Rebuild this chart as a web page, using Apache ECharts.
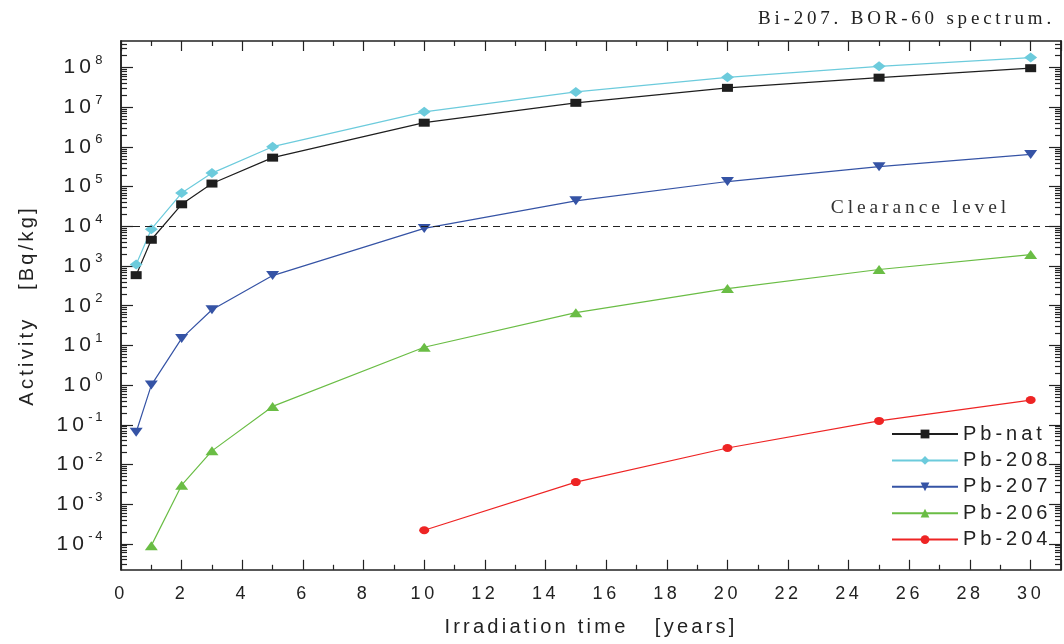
<!DOCTYPE html>
<html><head><meta charset="utf-8">
<script src="https://cdn.jsdelivr.net/npm/echarts@6/dist/echarts.min.js"></script>
<style>html,body{margin:0;padding:0;background:#fff}#c{width:1064px;height:644px}</style>
</head><body><div id="c"></div>
<script>
// wide letter spacing like the reference typography (axis names use 20.1px -> a bit tighter)
(function(){
  var P = CanvasRenderingContext2D.prototype;
  var d = Object.getOwnPropertyDescriptor(P,'font');
  if (d && d.set && ('letterSpacing' in P)) {
    Object.defineProperty(P,'font',{configurable:true,
      get:function(){return d.get.call(this);},
      set:function(v){d.set.call(this,v);var m=/(\d+(?:\.\d+)?)px/.exec(v);
        var s = m ? parseFloat(m[1]) : 0;
        var ls = (Math.abs(s-20.1) < 0.01) ? 3.2 : s*0.2;
        this.letterSpacing=ls.toFixed(1)+'px';}});
  }
})();

const years = [0.5, 1, 2, 3, 5, 10, 15, 20, 25, 30];
const pbNat = [590, 4.6e3, 3.6e4, 1.2e5, 5.4e5, 4.1e6, 1.3e7, 3.1e7, 5.6e7, 9.7e7];
const pb208 = [1.1e3, 8.5e3, 6.9e4, 2.2e5, 1.02e6, 7.7e6, 2.45e7, 5.7e7, 1.08e8, 1.8e8];
const pb207 = [0.065, 1.0, 15, 79, 576, 8.9e3, 4.4e4, 1.35e5, 3.2e5, 6.5e5];
const years206 = [1, 2, 3, 5, 10, 15, 20, 25, 30];
const pb206 = [9e-5, 3.0e-3, 0.022, 0.29, 9.0, 67, 270, 820, 1950];
const years204 = [10, 15, 20, 25, 30];
const pb204 = [2.2e-4, 3.6e-3, 0.026, 0.125, 0.42];
const clearance = 1e4;
const seriesNames = ['Pb-nat', 'Pb-208', 'Pb-207', 'Pb-206', 'Pb-204'];
const yMajorTicks = [1e-4, 1e-3, 1e-2, 1e-1, 1e0, 1e1, 1e2, 1e3, 1e4, 1e5, 1e6, 1e7, 1e8];
const titleText = 'Bi-207. BOR-60 spectrum.';
const xName = 'Irradiation time   [years]';
const yName = 'Activity   [Bq/kg]';
const clearanceText = 'Clearance level';

const yMin = Math.pow(10, -4.655), yMax = Math.pow(10, 8.672);
const yMinorTicks = [];
for (let e = -5; e <= 8; e++) for (let k = 2; k <= 9; k++) {
  const v = k * Math.pow(10, e);
  if (v > yMin && v < yMax) yMinorTicks.push(v);
}
const pair = (xs, ys) => xs.map((x, i) => [x, ys[i]]);
const ink = '#222';
const sans = 'Liberation Sans';
const serif = 'Liberation Serif';

function yAx(pos, labels, ticks, len) {
  return {
    type: 'log', logBase: 10, min: yMin, max: yMax, position: pos,
    splitLine: {show: false},
    axisLine: {show: true, onZero: false, lineStyle: {color: ink, width: 1.5}},
    axisTick: {show: true, inside: true, length: len, customValues: ticks, lineStyle: {color: ink, width: 1.2}},
    axisLabel: labels ? {
      show: true, customValues: yMajorTicks, margin: 16,
      formatter: v => '{b|10}{e|' + Math.round(Math.log10(v)) + '}',
      rich: {b: {fontSize: 21, fontFamily: sans, color: ink, lineHeight: 30},
             e: {fontSize: 13, fontFamily: sans, color: ink, verticalAlign: 'top'}}
    } : {show: false},
    minorTick: {show: false}
  };
}
function xAx(pos, labels) {
  return {
    type: 'value', min: 0, max: 31, interval: 2, position: pos,
    splitLine: {show: false},
    axisLine: {show: true, onZero: false, lineStyle: {color: ink, width: 1.5}},
    axisTick: {show: true, inside: true, length: 10, lineStyle: {color: ink, width: 1.2}},
    minorTick: {show: true, splitNumber: 2, length: 5, lineStyle: {color: ink, width: 1.2}},
    axisLabel: labels ? {show: true, fontSize: 18, fontFamily: sans, color: ink, margin: 13, showMaxLabel: false} : {show: false},
    name: labels ? xName : '', nameLocation: 'middle', nameGap: 46,
    nameTextStyle: {fontSize: 20.1, fontFamily: sans, color: ink}
  };
}
const yAxes = [yAx('left', true, yMajorTicks, 12), yAx('left', false, yMinorTicks, 6),
               yAx('right', false, yMajorTicks, 12), yAx('right', false, yMinorTicks, 6)];
yAxes[0].name = yName;
yAxes[0].nameLocation = 'middle';
yAxes[0].nameGap = 82;
yAxes[0].nameTextStyle = {fontSize: 20.1, fontFamily: sans, color: ink};

function ser(name, data, color, symbol, size, rot, extra) {
  return Object.assign({
    name, type: 'line', data, xAxisIndex: 0, yAxisIndex: 0,
    symbol, symbolSize: size, symbolRotate: rot || 0, showSymbol: true,
    itemStyle: {color: color}, lineStyle: {color: color, width: 1.2},
    emphasis: {disabled: true}, z: 3
  }, extra || {});
}

const option = {
  animation: false,
  backgroundColor: '#fff',
  title: {text: titleText, right: 4, top: 3,
    textStyle: {fontFamily: serif, fontSize: 19, fontWeight: 'normal', color: ink}},
  grid: {left: 121, right: 3, top: 41, bottom: 74, containLabel: false},
  xAxis: [xAx('bottom', true), xAx('top', false)],
  yAxis: yAxes,
  legend: {orient: 'vertical', left: 891, top: 422, padding: 0, itemWidth: 66, itemHeight: 11, itemGap: 2.4,
    textStyle: {fontSize: 20, fontFamily: sans, color: ink}, data: seriesNames},
  series: [
    ser(seriesNames[0], pair(years, pbNat), '#1e1e1e', 'rect', [11, 8], 0, {
      markLine: {silent: true, symbol: 'none', animation: false,
        lineStyle: {type: [7, 5], color: ink, width: 1.2},
        label: {show: true, position: 'insideEndTop', formatter: clearanceText,
          fontFamily: serif, fontSize: 19.5, color: '#333', padding: [0, 46, 2, 0]},
        data: [{yAxis: clearance}]}
    }),
    ser(seriesNames[1], pair(years, pb208), '#6ccbdc', 'diamond', [13, 10]),
    ser(seriesNames[2], pair(years, pb207), '#3553a5', 'triangle', [13, 9], 180),
    ser(seriesNames[3], pair(years206, pb206), '#6abd45', 'triangle', [13, 9]),
    ser(seriesNames[4], pair(years204, pb204), '#ee2424', 'circle', [10, 8])
  ]
};
const chart = echarts.init(document.getElementById('c'), null, {renderer: 'canvas'});
chart.setOption(option);
</script></body></html>
